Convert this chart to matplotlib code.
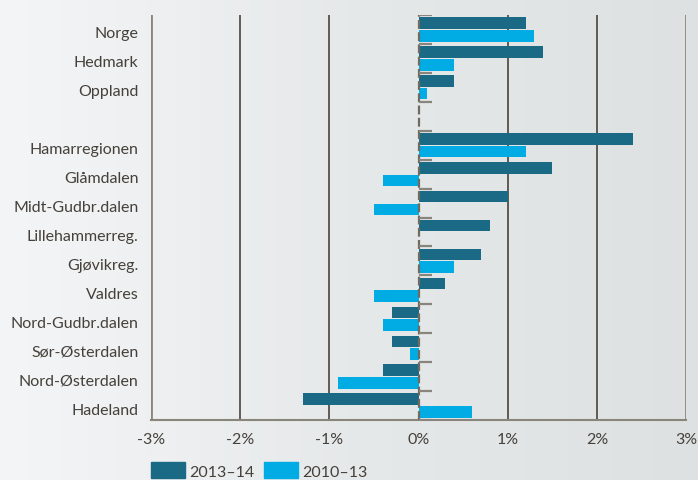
import numpy as np
import matplotlib.pyplot as plt
from matplotlib.patches import Patch
from matplotlib.colors import LinearSegmentedColormap
import matplotlib.transforms as mtransforms

plt.rcParams['font.family'] = ['Lato', 'DejaVu Sans']

# data (prosent endring)
regioner = ['Norge', 'Hedmark', 'Oppland', '', 'Hamarregionen', 'Glåmdalen',
            'Midt-Gudbr.dalen', 'Lillehammerreg.', 'Gjøvikreg.', 'Valdres',
            'Nord-Gudbr.dalen', 'Sør-Østerdalen', 'Nord-Østerdalen', 'Hadeland']
v_2013_14 = [1.2, 1.4, 0.4, np.nan, 2.4, 1.5, 1.0, 0.8, 0.7, 0.3, -0.3, -0.3, -0.4, -1.3]
v_2010_13 = [1.3, 0.4, 0.1, np.nan, 1.2, -0.4, -0.5, 0.0, 0.4, -0.5, -0.4, -0.1, -0.9, 0.6]
xticks = [-3, -2, -1, 0, 1, 2, 3]
serier = ['2013–14', '2010–13']

mork = '#1a6a85'
lys = '#00ace3'
tekst = '#45403a'
graa = '#8a857c'

fig = plt.figure(figsize=(6.98, 4.81), dpi=100)

# bakgrunn med svak gradient
bg = fig.add_axes([0, 0, 1, 1], zorder=-1)
grad = np.linspace(0, 1, 256).reshape(1, -1)
cm = LinearSegmentedColormap.from_list('bg', ['#f4f5f6', '#e6e9ea', '#dde1e2'])
bg.imshow(grad, aspect='auto', cmap=cm, extent=[0, 1, 0, 1])
bg.axis('off')

ax = fig.add_axes([151 / 698, 1 - 421 / 481, (686 - 151) / 698, (421 - 16) / 481])
ax.patch.set_alpha(0)

y = np.arange(len(regioner))
h = 0.4
ax.barh(y - 0.22, v_2013_14, height=h, color=mork, zorder=3)
ax.barh(y + 0.22, v_2010_13, height=h, color=lys, zorder=3)

ax.set_xlim(-3, 3)
ax.set_ylim(len(regioner) - 0.5, -0.5)

# rutenett
for t in xticks:
    if t in (-3, 3):
        ax.axvline(t, color=graa, lw=2, zorder=1)
    elif t == 0:
        ax.axvline(t, color='#6f6a62', lw=1.6, ls=(0, (4, 1.5)), zorder=4)
    else:
        ax.axvline(t, color='#4a4339', lw=1.2, zorder=1)

# små merker ved null-linjen
ax.hlines(np.arange(len(regioner) + 1) - 0.5, 0, 0.15, color=graa, lw=1.6, zorder=4)

for s in ['top', 'right', 'left']:
    ax.spines[s].set_visible(False)
ax.spines['bottom'].set_color(graa)
ax.spines['bottom'].set_linewidth(1.5)

ax.set_yticks(y)
ax.set_yticklabels(regioner)
ax.set_xticks(xticks)
ax.set_xticklabels(['%d%%' % t for t in xticks])
ax.tick_params(axis='y', length=0, pad=9, labelsize=11.5, labelcolor=tekst)
ax.tick_params(axis='x', length=0, pad=9, labelsize=11.5, labelcolor=tekst)

# etikettene litt lavere, som i originalen
skift = mtransforms.ScaledTranslation(0, -2.5 / 100, fig.dpi_scale_trans)
for lab in ax.get_yticklabels():
    lab.set_transform(lab.get_transform() + skift)

handles = [Patch(color=mork), Patch(color=lys)]
fig.legend(handles, serier, loc='upper left', bbox_to_anchor=(151 / 698, 1 - 463 / 481),
           ncol=2, frameon=False, borderpad=0, borderaxespad=0,
           handlelength=2.1, handleheight=1.2, handletextpad=0.3,
           columnspacing=0.6, fontsize=11.5, labelcolor=tekst)

fig.savefig('out.png', dpi=100)
